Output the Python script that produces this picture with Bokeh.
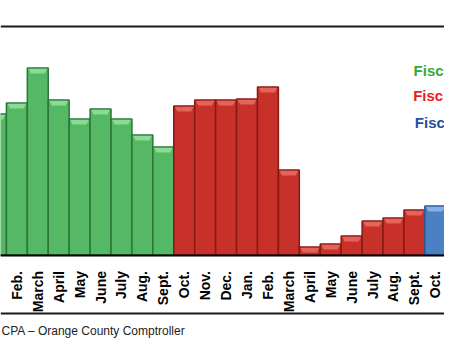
import numpy as np
from bokeh.plotting import figure
from bokeh.models import Range1d, LinearAxis, FixedTicker, Span, ColumnDataSource
from bokeh.core.properties import value
from bokeh.embed import file_html
from bokeh.resources import INLINE

# ---- data (arbitrary units) ----
months = ["Jan.", "Feb.", "March", "April", "May", "June", "July", "Aug.", "Sept.",
          "Oct.", "Nov.", "Dec.", "Jan.", "Feb.", "March", "April", "May", "June",
          "July", "Aug.", "Sept.", "Oct."]
fy_green = [141, 152, 187, 155, 136, 146, 136, 120, 108]
fy_red = [149, 155, 155, 156, 168, 85, 8, 11, 19, 34, 37, 45]
fy_blue = [49]
legend_labels = ["Fisc", "Fisc", "Fisc"]
source_note = "CPA \u2013 Orange County Comptroller"

W, H = 444, 352
p = figure(width=W, height=H, output_backend="svg", toolbar_location=None,
           x_axis_type=None, y_axis_type=None, min_border=0,
           x_range=Range1d(0.2183, 21.439), y_range=Range1d(-97.5, 254.5))
p.outline_line_color = None
p.background_fill_color = "white"
p.border_fill_color = "white"

series = [
    (fy_green, "#55b864", "#2c7537", "#8adb93"),
    (fy_red, "#c8302a", "#861a13", "#e4645b"),
    (fy_blue, "#4b81c3", "#2a5a96", "#84b1e8"),
]
start = 0
for vals, fill, line, bevel in series:
    xs = np.arange(start, start + len(vals))
    v = np.array(vals, dtype=float)
    p.quad(left=xs - 0.5, right=xs + 0.5, bottom=0, top=v,
           fill_color=fill, line_color=line, line_width=1.5)
    bx = [[x - 0.45, x + 0.45, x + 0.33, x - 0.33] for x in xs]
    by = [[t - 0.8, t - 0.8, t - 5.5, t - 5.5] for t in v]
    p.patches(bx, by, fill_color=bevel, line_color=None)
    start += len(vals)

# x axis at the baseline
ax = LinearAxis(fixed_location=0, ticker=FixedTicker(ticks=list(range(len(months)))),
                major_label_overrides={i: m for i, m in enumerate(months)})
ax.major_label_orientation = np.pi / 2
ax.major_tick_line_color = None
ax.minor_tick_line_color = None
ax.axis_line_color = "black"
ax.axis_line_width = 2
ax.major_label_standoff = 10
ax.major_label_text_font = "Liberation Sans"
ax.major_label_text_font_style = "bold"
ax.major_label_text_font_size = "14px"
ax.major_label_text_color = "black"
p.add_layout(ax, "below")

# frame lines
p.add_layout(Span(location=228.5, dimension="width", line_color="#1a1a1a", line_width=2))
p.add_layout(Span(location=-58.5, dimension="width", line_color="#1a1a1a", line_width=2))

# legend texts
leg_colors = ["#36a83a", "#ee1c1c", "#1f50a0"]
leg_src = ColumnDataSource(dict(x=[19.96, 19.94, 20.02], y=[184.5, 159.5, 133.0],
                                t=legend_labels, c=leg_colors))
p.text(x="x", y="y", text="t", text_color="c", source=leg_src,
       text_font=value("Liberation Sans"), text_font_style="bold",
       text_font_size="15px", text_baseline="middle", text_align="left")

# source note
p.text(x=[0.265], y=[-75.5], text=[source_note], text_color="#222222",
       text_font=value("Liberation Sans"), text_font_size="12px",
       text_baseline="middle", text_align="left")

open("out.html", "w").write(file_html(p, INLINE))
